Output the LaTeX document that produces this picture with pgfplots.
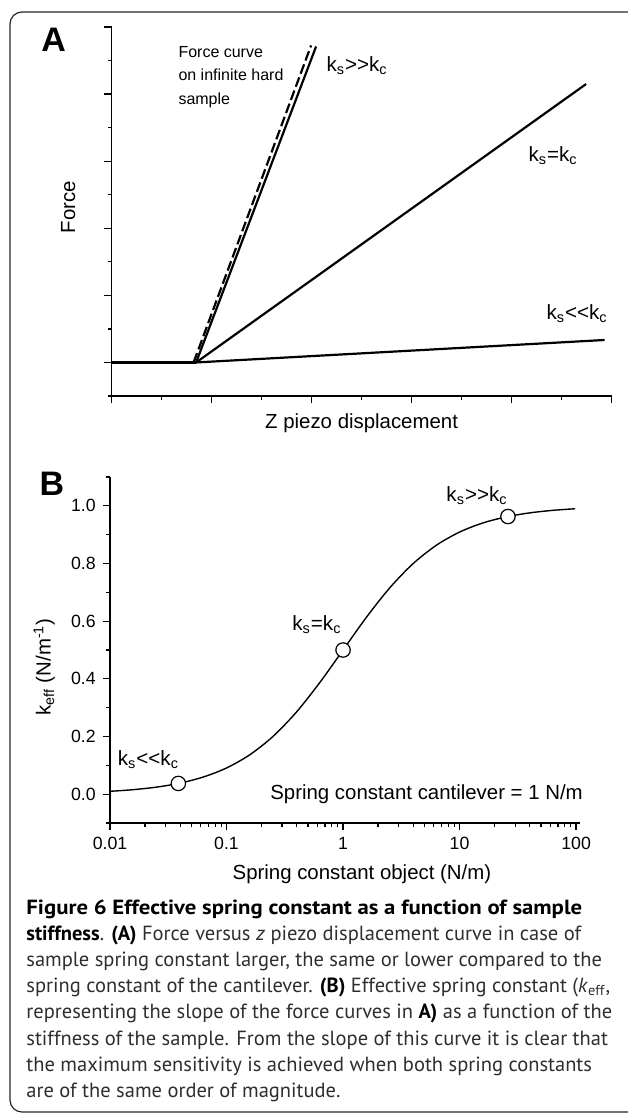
\documentclass[border=0pt]{standalone}
\usepackage{graphicx}
\usepackage{pgfplots}
\pgfplotsset{compat=1.18}
\usepackage{fontspec}
\setmainfont{Liberation Sans}
\newfontfamily\capfont{PT Sans}

\newcommand{\klab}{\fontsize{10.3}{12}\selectfont}
\newcommand{\ks}[1]{k\textsubscript{s}#1k\textsubscript{c}}
\newcommand{\cb}[1]{{\color{black}\bfseries #1}}

\begin{document}
\begin{tikzpicture}
\useasboundingbox (0,0) rectangle (313.5pt,-557pt);
\draw[line width=0.6pt, rounded corners=6pt, black!85] (5pt,-6pt) rectangle (330pt,-556pt);

\node[font=\bfseries\fontsize{17}{18}\selectfont, inner sep=0] at (26.8pt,-20pt) {A};
\node[font=\bfseries\fontsize{17}{18}\selectfont, inner sep=0] at (26pt,-242pt) {B};

% Panel A
\begin{axis}[
  at={(55.8pt,-198pt)}, anchor=south west,
  scale only axis, width=250pt, height=184.5pt,
  xmin=0, xmax=10, ymin=0, ymax=11,
  axis x line*=bottom, axis y line*=left,
  axis line style={line width=0.65pt},
  xtick={0,2,...,10}, minor xtick={1,3,...,9},
  ytick={1,3,...,11}, minor ytick={0,2,...,10},
  xticklabels={}, yticklabels={},
  tick align=outside,
  major tick length=3.6pt, minor tick length=2pt,
  every tick/.append style={black, line width=0.65pt},
  xlabel={Z piezo displacement}, ylabel={Force},
  label style={font=\fontsize{10.2}{12}\selectfont},
  xlabel style={at={(axis description cs:0.5,-0.073)}, anchor=center},
  ylabel style={at={(axis description cs:-0.087,0.512)}, anchor=center},
  clip=false,
]
\addplot[line width=1.1pt] coordinates {(0,1) (1.69,1)};
\addplot[line width=1.1pt] coordinates {(1.69,1) (4.09,10.42)};
\addplot[line width=1.1pt, dash pattern=on 5pt off 2pt] coordinates {(1.64,1) (3.99,10.45)};
\addplot[line width=1.1pt] coordinates {(1.69,1) (9.49,9.30)};
\addplot[line width=1.1pt] coordinates {(1.69,1) (9.86,1.67)};

\node[anchor=west, align=left, font=\fontsize{8}{11.7}\selectfont, inner sep=0] at (axis cs:1.33,9.51) {Force curve\\on infinite hard\\sample};
\node[anchor=base west, inner sep=0, font=\klab] at (axis cs:4.29,9.66) {\ks{>\kern0pt>}};
\node[anchor=base west, inner sep=0, font=\klab] at (axis cs:8.33,6.98) {\ks{=}};
\node[anchor=base west, inner sep=0, font=\klab] at (axis cs:8.69,2.27) {\ks{<\kern0pt<}};
\end{axis}

% Panel B
\begin{axis}[
  at={(55pt,-411.5pt)}, anchor=south west,
  scale only axis, width=235pt, height=173pt,
  xmode=log, xmin=0.01, xmax=108, ymin=-0.1, ymax=1.1,
  axis x line*=bottom, axis y line*=left,
  axis line style={line width=0.65pt},
  xtick={0.01,0.1,1,10,100}, xticklabels={0.01,0.1,1,10,100},
  minor xtick={0.02,0.03,0.04,0.05,0.06,0.07,0.08,0.09,0.2,0.3,0.4,0.5,0.6,0.7,0.8,0.9,2,3,4,5,6,7,8,9,20,30,40,50,60,70,80,90},
  ytick={0,0.2,0.4,0.6,0.8,1.0}, minor ytick={-0.1,0.1,0.3,0.5,0.7,0.9,1.1},
  yticklabel style={/pgf/number format/.cd, fixed, fixed zerofill, precision=1, assume math mode=true},
  tick label style={font=\fontsize{8.85}{10}\selectfont},
  tick align=outside,
  major tick length=3.6pt, minor tick length=2pt,
  every tick/.append style={black, line width=0.65pt},
  xlabel={Spring constant object (N/m)},
  ylabel={k\textsubscript{eff} (N/m\textsuperscript{-1})},
  label style={font=\fontsize{10.2}{12}\selectfont},
  xlabel style={at={(axis description cs:0.536,-0.147)}, anchor=center},
  ylabel style={at={(axis description cs:-0.14,0.451)}, anchor=center},
  clip=false,
]
\addplot[line width=0.7pt, smooth] coordinates {
  (0.01,0.0099) (0.0158,0.0156) (0.0251,0.0245) (0.0398,0.0383) (0.0631,0.0594)
  (0.1,0.0909) (0.158,0.1364) (0.251,0.2006) (0.398,0.2847) (0.631,0.3869)
  (1,0.5) (1.585,0.6132) (2.512,0.7153) (3.981,0.7992) (6.31,0.8632)
  (10,0.9091) (15.85,0.9407) (25.12,0.9617) (39.81,0.9755) (63.1,0.9844) (98,0.9899)};
\addplot[only marks, mark=*, mark size=3.6pt, mark options={fill=white, draw=black, line width=0.6pt}] coordinates {(0.0386,0.0372) (1,0.5) (26,0.963)};

\node[anchor=base west, inner sep=0, font=\klab] at (axis cs:0.0116,0.100) {\ks{<\kern0pt<}};
\node[anchor=base west, inner sep=0, font=\klab] at (axis cs:0.365,0.567) {\ks{=}};
\node[anchor=base west, inner sep=0, font=\klab] at (axis cs:7.66,1.015) {\ks{>\kern0pt>}};
\node[anchor=west, inner sep=0, font=\fontsize{10.2}{12}\selectfont] at (axis cs:0.236,0.0) {Spring constant cantilever = 1 N/m};
\end{axis}

% Caption
\begin{scope}[every node/.style={anchor=base west, inner sep=0pt, font=\capfont\fontsize{10.25}{13}\selectfont, text=black!82}]
\node at (13pt,-457pt) {\scalebox{1.11}[1]{\cb{Figure 6 Effective spring constant as a function of sample}}};
\node at (13pt,-470.1pt) {\cb{stiffness}. \cb{(A)} Force versus \textit{z} piezo displacement curve in case of};
\node at (13pt,-483.2pt) {sample spring constant larger, the same or lower compared to the};
\node at (13pt,-496.3pt) {spring constant of the cantilever. \cb{(B)} Effective spring constant (\textit{k}\textsubscript{eff},};
\node at (13pt,-509.4pt) {representing the slope of the force curves in \cb{A)} as a function of the};
\node at (13pt,-522.5pt) {stiffness of the sample. From the slope of this curve it is clear that};
\node at (13pt,-535.6pt) {the maximum sensitivity is achieved when both spring constants};
\node at (13pt,-548.7pt) {are of the same order of magnitude.};
\end{scope}
\end{tikzpicture}
\end{document}
